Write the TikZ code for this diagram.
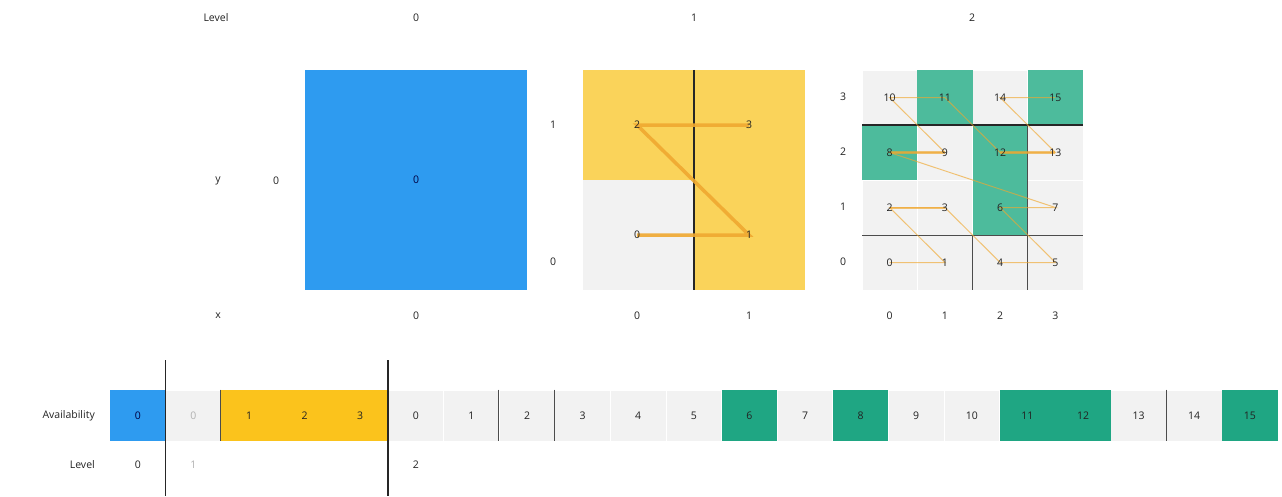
\documentclass[tikz,border=0pt]{standalone}
\usepackage{fontspec}
\setmainfont{Open Sans}
\definecolor{cblue}{HTML}{2E9BF0}
\definecolor{cyel}{HTML}{FAD35A}
\definecolor{cyelbar}{HTML}{FBC31C}
\definecolor{cgreen}{HTML}{4DBB9C}
\definecolor{cgreenbar}{HTML}{1FA683}
\definecolor{cgray}{HTML}{F2F2F2}
\definecolor{ccurve}{HTML}{F0A830}
\definecolor{ctext}{HTML}{222222}
\tikzset{
  lbl/.style={font=\fontsize{10.5}{12}\selectfont, text=ctext, inner sep=0pt},
  faint/.style={lbl, text=black!30},
  gcell/.style={draw=white, line width=0.8pt, fill=cgray, minimum width=55.25pt, minimum height=55pt, inner sep=0pt},
  bcell/.style={draw=white, line width=0.8pt, fill=cgray, minimum width=55.6pt, minimum height=51pt, inner sep=0pt},
  divider/.style={draw=black!85, line width=1.4pt},
  thindiv/.style={draw=black!70, line width=1pt},
  zthick/.style={draw=ccurve, line width=3.5pt, opacity=0.9},
  zthin/.style={draw=ccurve, line width=1pt, opacity=0.65},
}
\begin{document}
\begin{tikzpicture}[x=1pt,y=-1pt]
\useasboundingbox (0,0) rectangle (1282,496);

% ---------- headers ----------
\node[lbl] (hlevel) at (216,18) {Level};
\node[lbl] (h0) at (416,18) {0};
\node[lbl] (h1) at (694,18) {1};
\node[lbl] (h2) at (972,18) {2};
\node[lbl] (ylab) at (218,181) {y};
\node[lbl] (xlab) at (218,316) {x};

% ---------- level 0 ----------
\node[fill=cblue, minimum width=222pt, minimum height=220pt, inner sep=0pt] (l0) at (416,180) {};
\node[lbl, text=black!75!blue] (l0t) at (416,180) {0};
\node[lbl] (l0y) at (276,181) {0};
\node[lbl] (l0x) at (416,316) {0};

% ---------- level 1 ----------
\node[fill=cyel, minimum width=222pt, minimum height=220pt, inner sep=0pt] (l1) at (694,180) {};
\node[fill=cgray, minimum width=111pt, minimum height=110pt, inner sep=0pt] (l1c0) at (638.5,235) {};
\draw[divider, line width=1.2pt] (l1.north) -- (l1.south);
\coordinate (q0) at (637,235);
\coordinate (q1) at (749,235);
\coordinate (q2) at (637,125);
\coordinate (q3) at (749,125);
\draw[zthick] (q0) -- (q1) -- (q2) -- (q3);
\foreach \n in {0,...,3} { \node[lbl] (q\n t) at (q\n) {\n}; }
\node[lbl] (l1y1) at (553,125) {1};
\node[lbl] (l1y0) at (553,262) {0};
\node[lbl] (l1x0) at (637,316) {0};
\node[lbl] (l1x1) at (749,316) {1};

% ---------- level 2 ----------
\foreach \n/\c/\r in {0/0/0,1/1/0,2/0/1,3/1/1,4/2/0,5/3/0,6/2/1,7/3/1,8/0/2,9/1/2,10/0/3,11/1/3,12/2/2,13/3/2,14/2/3,15/3/3} {
  \node[gcell] (g\n) at ({862+55.25*\c+27.625},{290-55*\r-27.5}) {};
  \coordinate (p\n) at ({862+55.25*\c+27.625},{290-55*\r-27.5});
}
\foreach \n in {8,11,15} { \node[gcell, fill=cgreen, draw=none] at (g\n) {}; }
\node[fill=cgreen, minimum width=55.25pt, minimum height=110pt, inner sep=0pt] (g126) at (1000.375,180) {};
% grid dividers
\coordinate (hA1) at (862,125);
\coordinate (hA2) at (1083,125);
\coordinate (hB1) at (862,235);
\coordinate (hB2) at (1083,235);
\coordinate (vA1) at (972.5,235);
\coordinate (vA2) at (972.5,290);
\coordinate (vB1) at (1027.75,125);
\coordinate (vB2) at (1027.75,290);
\draw[divider] (hA1) -- (hA2);
\draw[thindiv] (hB1) -- (hB2);
\draw[thindiv] (vA1) -- (vA2);
\draw[thindiv] (vB1) -- (vB2);
% Z curve
\draw[zthin] (p0) -- (p1) -- (p2) -- (p3) -- (p4) -- (p5) -- (p6) -- (p7) -- (p8) -- (p9) -- (p10) -- (p11) -- (p12) -- (p13) -- (p14) -- (p15);
\draw[zthin, line width=2.5pt] (p8) -- (p9);
\draw[zthin, line width=2.5pt] (p12) -- (p13);
\draw[zthin, line width=2pt] (p2) -- (p3);
\foreach \n in {0,...,15} { \node[lbl] (g\n t) at (p\n) {\n}; }
\foreach \r/\yy in {0/262,1/207,2/152,3/97} { \node[lbl] (l2y\r) at (843,\yy) {\r}; }
\foreach \c in {0,...,3} { \node[lbl] (l2x\c) at ({862+55.25*\c+27.625},316) {\c}; }

% ---------- availability bar ----------
\node[lbl, anchor=east] (avail) at (95,415.5) {Availability};
\node[lbl, anchor=east] (levrow) at (95,465) {Level};
\node[bcell, fill=cblue, draw=none] (b0) at (137.8,415.5) {};
\node[lbl, text=black!75!blue] at (b0) {0};
\node[bcell] (b1) at (193.4,415.5) {};
\node[faint] at (b1) {0};
\foreach \i/\t in {2/1,3/2,4/3} {
  \node[bcell, fill=cyelbar, draw=none] (b\i) at ({110+55.6*\i+27.8},415.5) {};
  \node[lbl] at (b\i) {\t};
}
\foreach \k in {0,...,15} {
  \pgfmathtruncatemacro{\i}{\k+5}
  \node[bcell] (b\i) at ({110+55.6*\i+27.8},415.5) {};
}
\foreach \k in {6,8,11,12,15} {
  \pgfmathtruncatemacro{\i}{\k+5}
  \node[bcell, fill=cgreenbar, draw=none] at (b\i) {};
}
\foreach \k in {0,...,15} {
  \pgfmathtruncatemacro{\i}{\k+5}
  \node[lbl] (bt\i) at (b\i) {\k};
}
% dividers
\coordinate (d1top) at (165.6,360);
\coordinate (d1bot) at (165.6,496);
\coordinate (d2top) at (388,360);
\coordinate (d2bot) at (388,496);
\draw[divider] (d1top) -- (d1bot);
\draw[divider] (d2top) -- (d2bot);
\draw[thindiv] (b2.north west) -- (b2.south west);
\draw[thindiv] (b7.north west) -- (b7.south west);
\draw[thindiv] (b8.north west) -- (b8.south west);
\draw[thindiv] (b19.north west) -- (b19.south west);
% level row
\node[lbl] (lv0) at (137.8,465) {0};
\node[faint] (lv1) at (193.4,465) {1};
\node[lbl] (lv2) at (415.8,465) {2};
\end{tikzpicture}
\end{document}
